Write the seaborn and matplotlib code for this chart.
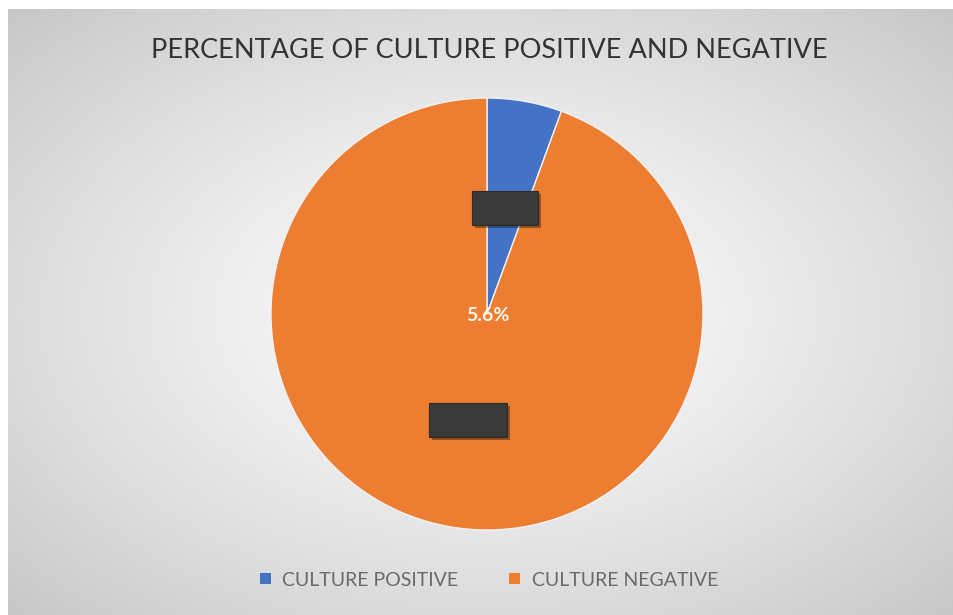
import numpy as np
import matplotlib
matplotlib.use("Agg")
import matplotlib.pyplot as plt
import seaborn as sns
from matplotlib.patches import Rectangle

sns.set_theme(style="white")
plt.rcParams['font.family'] = ['Lato', 'DejaVu Sans']

# data
categories = ["CULTURE POSITIVE", "CULTURE NEGATIVE"]
values = [5.6, 94.4]
title = "PERCENTAGE OF CULTURE POSITIVE AND NEGATIVE"
colors = sns.color_palette(["#4472C4", "#ED7D31"])

W, H = 954, 615
fig = plt.figure(figsize=(W / 100, H / 100), dpi=100)
fig.patch.set_facecolor("white")

# radial gradient background
bg = fig.add_axes([8 / W, 0, (W - 8) / W, (H - 9) / H])
yy, xx = np.mgrid[0:300, 0:470]
cx, cy = 470 / 2, 300 / 2
r = np.sqrt(((xx - cx) / 470) ** 2 + ((yy - cy) / 300) ** 2) / 0.7071
g = 0.99 - 0.21 * np.clip(r, 0, 1) ** 1.3
bg.imshow(np.dstack([g, g, g]), aspect="auto", extent=[0, 1, 0, 1], interpolation="bilinear")
bg.set_axis_off()

# pie axes: center (487, 314), radius 216
R = 216
cxp, cyp = 487, 314
ax = fig.add_axes([(cxp - R) / W, (H - cyp - R) / H, 2 * R / W, 2 * R / H])
ax.set_facecolor("none")
wedges, _ = ax.pie(values, colors=colors, startangle=90, counterclock=False,
                   wedgeprops=dict(edgecolor="#f2f2f2", linewidth=1.0))
ax.set_xlim(-1, 1)
ax.set_ylim(-1, 1)
ax.set_aspect("auto")

# percentage label
ax.text(0.005, -0.005, f"{values[0]}%", ha="center", va="center", color="#fff8ee",
        fontsize=14, fontweight="bold", zorder=6)

# dark label boxes (obscured data labels)
def dark_box(px, py, w, h):
    x0 = (px - cxp) / R
    y0 = (cyp - py) / R
    ww, hh = w / R, h / R
    sh = Rectangle((x0 - ww / 2 + 0.012, y0 - hh / 2 - 0.016), ww, hh,
                   facecolor="#000000", alpha=0.35, edgecolor="none", zorder=4)
    ax.add_patch(sh)
    bx = Rectangle((x0 - ww / 2, y0 - hh / 2), ww, hh,
                   facecolor="#3a3a3a", edgecolor="#2a2a2a", linewidth=0.8, zorder=5)
    ax.add_patch(bx)

dark_box(505, 208, 66, 34)
dark_box(468, 420, 78, 34)

# title
fig.text(489 / W, 1 - 50 / H, title, ha="center", va="center",
         fontsize=19.5, color="#333333")

# legend
handles = [plt.Rectangle((0, 0), 1, 1, facecolor=c, edgecolor="none") for c in colors]
fig.legend(handles, categories, loc="center", bbox_to_anchor=(489 / W, 1 - 580 / H),
           ncol=2, frameon=False, fontsize=14, handlelength=0.55, handleheight=0.55,
           handletextpad=0.6, columnspacing=2.6, labelcolor="#6a6a6a")

fig.savefig("out.png", dpi=100)
